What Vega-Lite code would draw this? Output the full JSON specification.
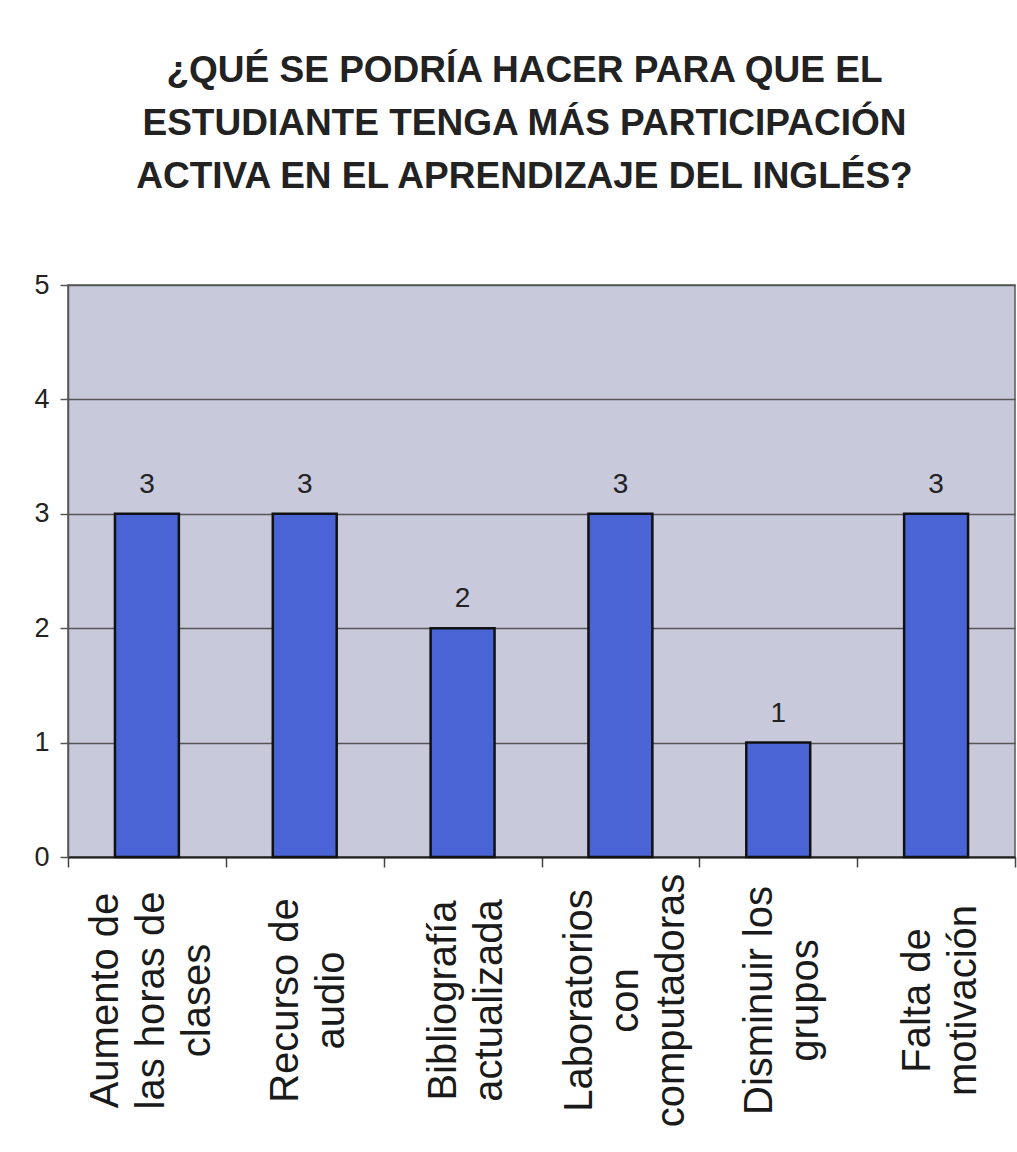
{
  "$schema": "https://vega.github.io/schema/vega-lite/v6.json",
  "autosize": "none",
  "width": 947,
  "height": 572,
  "padding": {"left": 68, "top": 285, "right": 2, "bottom": 295},
  "background": "#ffffff",
  "title": {
    "text": ["¿QUÉ SE PODRÍA HACER PARA QUE EL", "ESTUDIANTE TENGA MÁS PARTICIPACIÓN", "ACTIVA EN EL APRENDIZAJE DEL INGLÉS?"],
    "font": "Liberation Sans",
    "fontSize": 37,
    "fontWeight": "bold",
    "color": "#222222",
    "lineHeight": 53,
    "anchor": "middle",
    "frame": "group",
    "baseline": "alphabetic",
    "offset": 46,
    "dx": -17
  },
  "data": {
    "values": [
      {"categoria": "Aumento de\nlas horas de\nclases", "valor": 3},
      {"categoria": "Recurso de\naudio", "valor": 3},
      {"categoria": "Bibliografía\nactualizada", "valor": 2},
      {"categoria": "Laboratorios\ncon\ncomputadoras", "valor": 3},
      {"categoria": "Disminuir los\ngrupos", "valor": 1},
      {"categoria": "Falta de\nmotivación", "valor": 3}
    ]
  },
  "encoding": {
    "x": {
      "field": "categoria",
      "type": "nominal",
      "sort": null,
      "title": null,
      "scale": {"paddingInner": 0, "paddingOuter": 0},
      "axis": {
        "labelExpr": "split(datum.label, '\\n')",
        "labelAngle": 270,
        "labelAlign": "center",
        "labelBaseline": "middle",
        "labelFont": "Liberation Sans",
        "labelFontSize": 40,
        "labelLineHeight": 46,
        "labelColor": "#1a1a1a",
        "labelPadding": 133,
        "labelOffset": {"condition": {"test": "length(split(datum.value, '\\n')) == 3", "value": -41}, "value": -19},
        "labelLimit": 400,
        "tickBand": "extent",
        "tickSize": 10,
        "tickColor": "#444444",
        "tickWidth": 1.5,
        "domainColor": "#222222",
        "domainWidth": 2,
        "grid": false
      }
    },
    "y": {
      "field": "valor",
      "type": "quantitative",
      "title": null,
      "scale": {"domain": [0, 5], "nice": false},
      "axis": {
        "values": [0, 1, 2, 3, 4, 5],
        "labelFont": "Liberation Sans",
        "labelFontSize": 27,
        "labelColor": "#222222",
        "labelPadding": 11,
        "tickSize": 8,
        "tickColor": "#555555",
        "tickWidth": 1.5,
        "domainColor": "#555555",
        "domainWidth": 1.5,
        "grid": true,
        "gridColor": "#555555",
        "gridWidth": 1.5,
        "gridOpacity": 1
      }
    }
  },
  "layer": [
    {
      "mark": {"type": "bar", "width": {"band": 0.405}, "color": "#4a64d6", "stroke": "#111111", "strokeWidth": 2.5}
    },
    {
      "mark": {"type": "text", "baseline": "alphabetic", "dy": -21, "font": "Liberation Sans", "fontSize": 28, "color": "#222222"},
      "encoding": {"text": {"field": "valor", "type": "quantitative"}}
    }
  ],
  "config": {
    "view": {"fill": "#c9c9dc", "stroke": "#555555", "strokeWidth": 1.5}
  }
}
